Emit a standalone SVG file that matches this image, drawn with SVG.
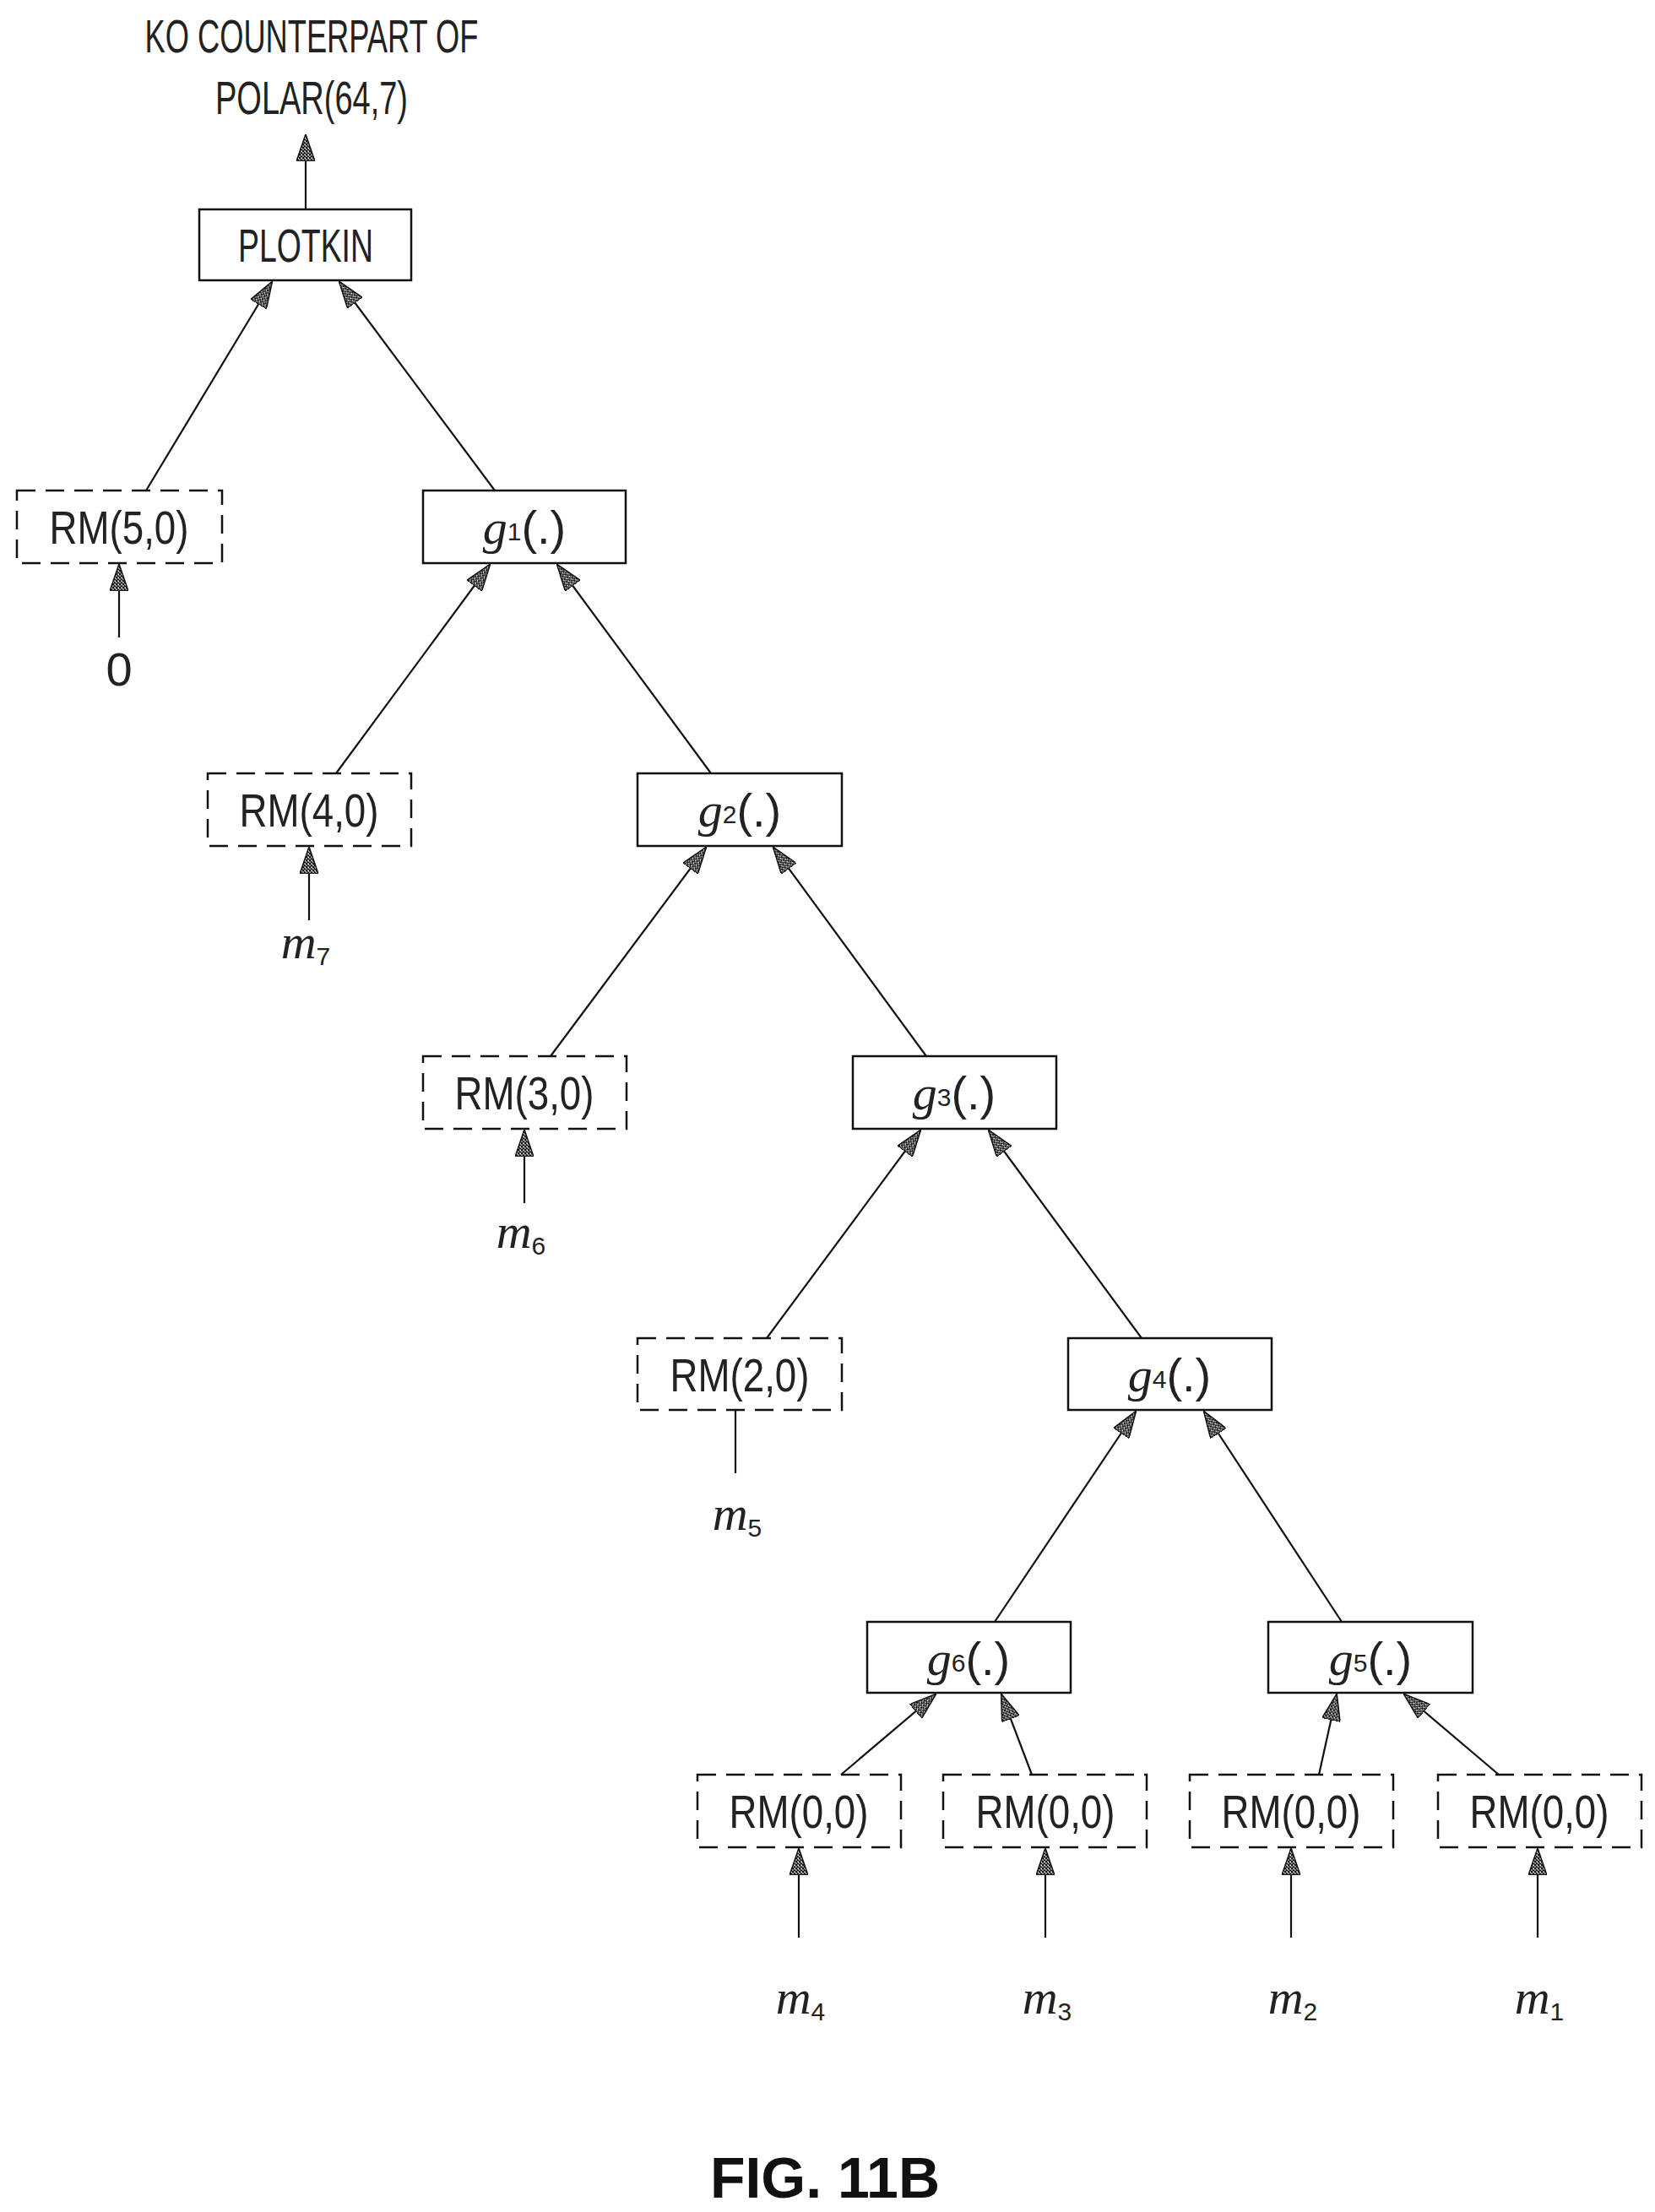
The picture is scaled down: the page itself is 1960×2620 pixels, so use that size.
<svg xmlns="http://www.w3.org/2000/svg" width="1960" height="2620" viewBox="0 0 1960 2620">
<style>
.t{font-family:"Liberation Sans",Arial,sans-serif;font-size:56px;fill:#222}
.i{font-family:"Liberation Serif",serif;font-style:italic;font-size:58px;fill:#222}
.s{font-family:"Liberation Sans",sans-serif;font-size:30px;fill:#222}
.solid{fill:#fff;stroke:#111;stroke-width:2.5}
.dash{fill:#fff;stroke:#111;stroke-width:2.5;stroke-dasharray:22 12}
.e{stroke:#111;stroke-width:2.2;fill:none;marker-end:url(#a)}
.n{stroke:#111;stroke-width:2.2;fill:none}
</style>
<defs>
<pattern id="h" width="4" height="4" patternUnits="userSpaceOnUse"><rect width="4" height="4" fill="#fff"/><path d="M0 0L4 4M4 0L0 4" stroke="#111" stroke-width="1.4"/></pattern>
<marker id="a" viewBox="0 0 32 22" refX="31" refY="11" markerWidth="32" markerHeight="22" markerUnits="userSpaceOnUse" orient="auto"><path d="M0 0L32 11L0 22Z" fill="url(#h)" stroke="#111" stroke-width="1.5"/></marker>
</defs>
<rect width="1960" height="2620" fill="#fff"/>
<g id="title">
<text class="t" x="369" y="62" text-anchor="middle" textLength="395" lengthAdjust="spacingAndGlyphs">KO COUNTERPART OF</text>
<text class="t" x="369" y="135" text-anchor="middle" textLength="228" lengthAdjust="spacingAndGlyphs">POLAR(64,7)</text>
</g>
<g id="connectors">
<line class="e" x1="362" y1="248" x2="362" y2="160"/>
<line class="e" x1="173" y1="581" x2="322" y2="334"/>
<line class="e" x1="586" y1="581" x2="402" y2="334"/>
<line class="e" x1="141" y1="755" x2="141" y2="669"/>
<line class="e" x1="398" y1="916" x2="580" y2="669"/>
<line class="e" x1="842" y1="916" x2="660" y2="669"/>
<line class="e" x1="366" y1="1090" x2="366" y2="1004"/>
<line class="e" x1="652" y1="1251" x2="836" y2="1004"/>
<line class="e" x1="1097" y1="1251" x2="916" y2="1004"/>
<line class="e" x1="621" y1="1425" x2="621" y2="1339"/>
<line class="e" x1="908" y1="1585" x2="1090" y2="1339"/>
<line class="n" x1="871" y1="1670" x2="871" y2="1745"/>
<line class="e" x1="1352" y1="1585" x2="1171" y2="1339"/>
<line class="e" x1="1178" y1="1921" x2="1345" y2="1672"/>
<line class="e" x1="1589" y1="1921" x2="1426" y2="1672"/>
<line class="e" x1="996" y1="2102" x2="1108" y2="2007"/>
<line class="e" x1="1222" y1="2102" x2="1186" y2="2007"/>
<line class="e" x1="1562" y1="2102" x2="1583" y2="2007"/>
<line class="e" x1="1775" y1="2102" x2="1663" y2="2007"/>
<line class="e" x1="946" y1="2295" x2="946" y2="2190"/>
<line class="e" x1="1238" y1="2295" x2="1238" y2="2190"/>
<line class="e" x1="1529" y1="2295" x2="1529" y2="2190"/>
<line class="e" x1="1821" y1="2295" x2="1821" y2="2190"/>
</g>
<g id="plotkin"><rect class="solid" x="236" y="248" width="251" height="84"/><text class="t" x="362" y="310" text-anchor="middle" textLength="160" lengthAdjust="spacingAndGlyphs">PLOTKIN</text></g>
<g id="rm50"><rect class="dash" x="20" y="581" width="243" height="86"/><text class="t" x="141" y="644" text-anchor="middle" textLength="165" lengthAdjust="spacingAndGlyphs">RM(5,0)</text></g>
<g id="g1"><rect class="solid" x="501" y="581" width="240" height="86"/><text x="621" y="644" text-anchor="middle"><tspan class="i">g</tspan><tspan class="s" dy="-4">1</tspan><tspan class="t" dy="4">(.)</tspan></text></g>
<g id="rm40"><rect class="dash" x="246" y="916" width="241" height="86"/><text class="t" x="366" y="979" text-anchor="middle" textLength="165" lengthAdjust="spacingAndGlyphs">RM(4,0)</text></g>
<g id="g2"><rect class="solid" x="755" y="916" width="242" height="86"/><text x="876" y="979" text-anchor="middle"><tspan class="i">g</tspan><tspan class="s" dy="-4">2</tspan><tspan class="t" dy="4">(.)</tspan></text></g>
<g id="rm30"><rect class="dash" x="501" y="1251" width="241" height="86"/><text class="t" x="621" y="1314" text-anchor="middle" textLength="165" lengthAdjust="spacingAndGlyphs">RM(3,0)</text></g>
<g id="g3"><rect class="solid" x="1010" y="1251" width="241" height="86"/><text x="1130" y="1314" text-anchor="middle"><tspan class="i">g</tspan><tspan class="s" dy="-4">3</tspan><tspan class="t" dy="4">(.)</tspan></text></g>
<g id="rm20"><rect class="dash" x="755" y="1585" width="242" height="85"/><text class="t" x="876" y="1648" text-anchor="middle" textLength="165" lengthAdjust="spacingAndGlyphs">RM(2,0)</text></g>
<g id="g4"><rect class="solid" x="1265" y="1585" width="241" height="85"/><text x="1385" y="1648" text-anchor="middle"><tspan class="i">g</tspan><tspan class="s" dy="-4">4</tspan><tspan class="t" dy="4">(.)</tspan></text></g>
<g id="g6"><rect class="solid" x="1027" y="1921" width="241" height="84"/><text x="1147" y="1984" text-anchor="middle"><tspan class="i">g</tspan><tspan class="s" dy="-4">6</tspan><tspan class="t" dy="4">(.)</tspan></text></g>
<g id="g5"><rect class="solid" x="1502" y="1921" width="242" height="84"/><text x="1623" y="1984" text-anchor="middle"><tspan class="i">g</tspan><tspan class="s" dy="-4">5</tspan><tspan class="t" dy="4">(.)</tspan></text></g>
<g id="rm00a"><rect class="dash" x="826" y="2102" width="241" height="86"/><text class="t" x="946" y="2165" text-anchor="middle" textLength="165" lengthAdjust="spacingAndGlyphs">RM(0,0)</text></g>
<g id="rm00b"><rect class="dash" x="1117" y="2102" width="241" height="86"/><text class="t" x="1238" y="2165" text-anchor="middle" textLength="165" lengthAdjust="spacingAndGlyphs">RM(0,0)</text></g>
<g id="rm00c"><rect class="dash" x="1409" y="2102" width="241" height="86"/><text class="t" x="1529" y="2165" text-anchor="middle" textLength="165" lengthAdjust="spacingAndGlyphs">RM(0,0)</text></g>
<g id="rm00d"><rect class="dash" x="1703" y="2102" width="241" height="86"/><text class="t" x="1823" y="2165" text-anchor="middle" textLength="165" lengthAdjust="spacingAndGlyphs">RM(0,0)</text></g>
<g id="inputs">
<text class="t" x="141" y="812" text-anchor="middle">0</text>
<text x="362" y="1135" text-anchor="middle"><tspan class="i">m</tspan><tspan class="s" dy="8">7</tspan></text>
<text x="617" y="1478" text-anchor="middle"><tspan class="i">m</tspan><tspan class="s" dy="8">6</tspan></text>
<text x="873" y="1812" text-anchor="middle"><tspan class="i">m</tspan><tspan class="s" dy="8">5</tspan></text>
<text x="948" y="2385" text-anchor="middle"><tspan class="i">m</tspan><tspan class="s" dy="8">4</tspan></text>
<text x="1240" y="2385" text-anchor="middle"><tspan class="i">m</tspan><tspan class="s" dy="8">3</tspan></text>
<text x="1531" y="2385" text-anchor="middle"><tspan class="i">m</tspan><tspan class="s" dy="8">2</tspan></text>
<text x="1823" y="2385" text-anchor="middle"><tspan class="i">m</tspan><tspan class="s" dy="8">1</tspan></text>
</g>
<text x="977" y="2603" text-anchor="middle" font-family="Liberation Sans,Arial,sans-serif" font-weight="bold" font-size="68" fill="#111">FIG. 11B</text>
</svg>
